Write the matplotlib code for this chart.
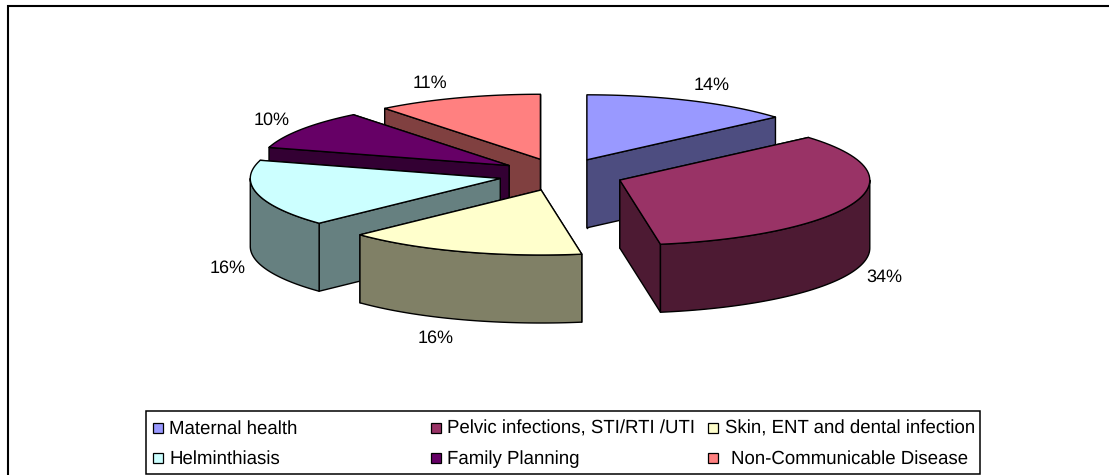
import numpy as np
from matplotlib import pyplot as plt
from matplotlib.patches import Polygon, Rectangle

plt.rcParams['font.family'] = ['Liberation Sans', 'DejaVu Sans']
plt.rcParams['text.hinting'] = 'none'

# data
categories = ['Maternal health', 'Pelvic infections, STI/RTI /UTI', 'Skin, ENT and dental infection',
              'Helminthiasis', 'Family Planning', 'Non-Communicable Disease']
values = [13.6, 33.8, 15.5, 16.6, 9.8, 10.7]
pct_labels = ['14%', '34%', '16%', '16%', '10%', '11%']
colors = ['#9999FF', '#993366', '#FFFFCC', '#CCFFFF', '#660066', '#FF8080']
side_colors = ['#4D4D80', '#4D1A33', '#808066', '#668080', '#330033', '#804040']

# layout, in image pixels
W, H = 1109, 475
CX, CY = 561, 174.6
RX, RY = 250, 65
DEPTH = 68
EXPLODE = 0.25
label_pos = [(712, 85.5), (884, 277.5), (436, 338.5), (228, 268.5), (272, 120.5), (430, 83.5)]
legend_marker_x = [153, 431, 708, 153, 431, 708]
legend_text_x = [169, 447, 725, 169, 447, 731]
legend_y = [428, 428, 428, 458, 458, 458]
draw_order = [5, 4, 0, 3, 1, 2]

fig = plt.figure(figsize=(W / 100, H / 100), dpi=100)
ax = fig.add_axes([0, 0, 1, 1])
ax.set_xlim(0, W)
ax.set_ylim(H, 0)
ax.axis('off')


def rim(x0, y0, t0, t1, n=60):
    t = np.radians(np.linspace(t0, t1, n))
    return np.column_stack([x0 + RX * np.sin(t), y0 - RY * np.cos(t)])


def wall(pts, color):
    # extrude a line on the top face straight down
    low = pts[::-1] + [0, DEPTH]
    ax.add_patch(Polygon(np.vstack([pts, low]), closed=True, fc=color, ec='black', lw=1.0, joinstyle='round'))


edges = np.concatenate([[0], np.cumsum(values)]) * 360 / sum(values)

for i in draw_order:
    t0, t1 = edges[i], edges[i + 1]
    mid = np.radians((t0 + t1) / 2)
    x0 = CX + EXPLODE * RX * np.sin(mid)
    y0 = CY - EXPLODE * RY * np.cos(mid)
    apex = np.array([[x0, y0]])
    arc = rim(x0, y0, t0, t1)

    walls = [np.vstack([apex, arc[:1]]), np.vstack([apex, arc[-1:]])]
    lo, hi = max(t0, 90), min(t1, 270)
    if lo < hi:
        walls.append(rim(x0, y0, lo, hi))
    for pts in sorted(walls, key=lambda p: p[:, 1].mean()):
        wall(pts, side_colors[i])

    ax.add_patch(Polygon(np.vstack([apex, arc]), closed=True, fc=colors[i], ec='black', lw=1.0, joinstyle='round'))
    ax.text(*label_pos[i], pct_labels[i], fontsize=13, ha='center', va='center', color='black')

# chart frame, only top and left show
ax.plot([8, 8, W], [H, 5.5, 5.5], color='black', lw=1.5, solid_joinstyle='miter')

# legend
ax.add_patch(Rectangle((146, 411), 834, 63, fc='white', ec='black', lw=1.1))
for i in range(len(categories)):
    ax.add_patch(Rectangle((legend_marker_x[i], legend_y[i] - 5), 10, 10, fc=colors[i], ec='black', lw=0.9))
    ax.text(legend_text_x[i], legend_y[i] + 1, categories[i], fontsize=13.4, ha='left', va='center', color='black')

fig.savefig('out.png', dpi=100)
